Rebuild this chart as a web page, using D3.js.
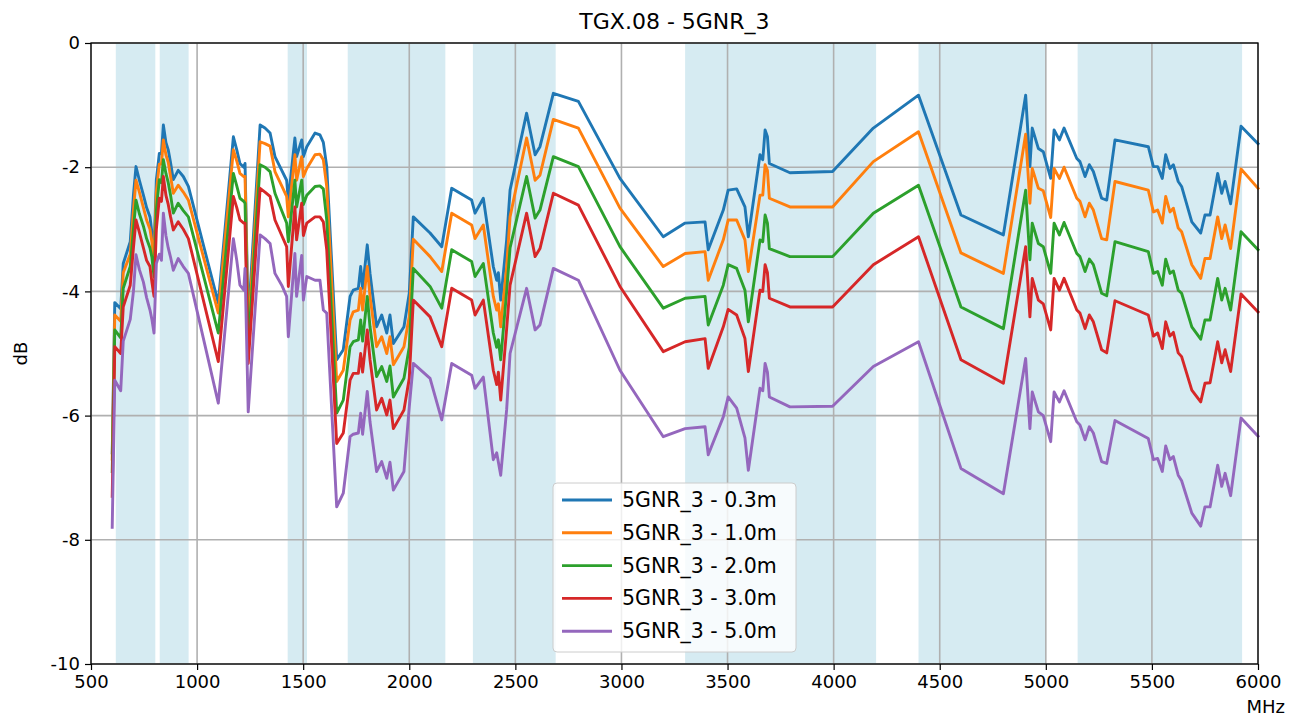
<!DOCTYPE html>
<html>
<head>
<meta charset="utf-8">
<script src="https://cdn.jsdelivr.net/npm/d3@7"></script>
<style>
    body { margin: 0; background: #fff; }
    svg { font-family: "DejaVu Sans", sans-serif; }
</style>
</head>
<body>
<svg id="grafico" width="1299" height="720"></svg>
<script>

const titulo = "TGX.08 - 5GNR_3";

const frequencias = [600, 612, 640, 652, 685, 700, 712, 728, 747, 762, 778, 787, 797, 808, 822, 832, 841, 853, 864, 875, 888, 911, 935, 959,
    1100, 1171, 1187, 1202, 1220, 1226, 1241, 1297, 1320, 1344, 1367, 1399, 1422, 1430, 1461, 1469, 1493, 1501, 1517, 1556, 1579, 1595, 1611,
    1658, 1689, 1721, 1736, 1760, 1771, 1780, 1802, 1815, 1846, 1870, 1894, 1909, 1925, 1975, 2000, 2019, 2098, 2153, 2200,
    2294, 2310, 2349, 2396, 2412, 2420, 2431, 2459, 2475, 2553, 2593, 2616, 2679, 2797, 2993, 3197,
    3300, 3394, 3409, 3480, 3503, 3543, 3582, 3598, 3653, 3666, 3677, 3688, 3697, 3794, 3995, 4187,
    4400, 4600, 4800, 4905, 4925, 4936, 4965, 4988, 5023, 5039, 5064, 5086, 5146, 5161, 5185, 5205, 5224, 5263, 5287,
    5326, 5483, 5507, 5527, 5549, 5565, 5585, 5601, 5624, 5640, 5688, 5730, 5750, 5774, 5810, 5829, 5845, 5871, 5920, 6000];

const valores03m = [-6.6, -4.18, -4.28, -3.55, -3.2, -2.45, -1.99, -2.21, -2.45, -2.65, -2.8, -3.05, -3.35, -2.2, -1.78, -1.78, -1.32, -1.6, -1.72, -1.93, -2.2, -2.05, -2.15, -2.31,
    -4.19, -1.51, -1.72, -1.94, -2.0, -1.94, -4.5, -1.32, -1.37, -1.45, -1.83, -2.05, -2.21, -2.53, -1.53, -1.83, -1.56, -1.83, -1.67, -1.45, -1.48, -1.6, -1.99,
    -5.1, -4.94, -4.08, -3.98, -3.95, -3.6, -3.95, -3.25, -3.71, -4.57, -4.38, -4.67, -4.38, -4.84, -4.57, -4.03, -2.8, -3.06, -3.28, -2.34,
    -2.53, -2.74, -2.5, -3.6, -3.82, -3.7, -4.14, -3.17, -2.37, -1.13, -1.8, -1.67, -0.81, -0.94, -2.18, -3.12,
    -2.9, -2.88, -3.33, -2.69, -2.37, -2.35, -2.64, -3.12, -1.8, -1.88, -1.4, -1.51, -1.94, -2.09, -2.07, -1.37,
    -0.84, -2.77, -3.09, -0.84, -1.99, -1.37, -1.7, -1.75, -2.18, -1.4, -1.56, -1.37, -1.86, -1.91, -2.15, -1.96, -2.07, -2.5, -2.53,
    -1.56, -1.67, -1.99, -1.99, -2.18, -1.8, -2.02, -1.96, -2.23, -2.31, -2.88, -3.06, -2.77, -2.77, -2.1, -2.42, -2.23, -2.59, -1.34, -1.62];

const valores10m = [-6.7, -4.38, -4.48, -3.7, -3.4, -2.7, -2.21, -2.4, -2.65, -2.85, -3.0, -3.2, -3.5, -2.4, -1.95, -1.95, -1.56, -1.8, -1.92, -2.15, -2.42, -2.29, -2.4, -2.53,
    -4.35, -1.72, -1.9, -2.1, -2.15, -2.15, -4.7, -1.59, -1.62, -1.66, -2.07, -2.3, -2.47, -2.8, -1.8, -2.21, -1.83, -2.15, -2.02, -1.8, -1.79, -1.88, -2.31,
    -5.45, -5.27, -4.46, -4.33, -4.3, -3.95, -4.3, -3.6, -4.08, -4.89, -4.73, -5.0, -4.73, -5.18, -4.89, -4.4, -3.16, -3.44, -3.68, -2.74,
    -2.93, -3.15, -2.93, -4.08, -4.3, -4.2, -4.57, -3.6, -2.8, -1.53, -2.21, -2.13, -1.23, -1.37, -2.66, -3.6,
    -3.39, -3.36, -3.82, -3.17, -2.85, -2.85, -3.17, -3.68, -2.45, -2.45, -1.96, -2.05, -2.5, -2.64, -2.64, -1.91,
    -1.43, -3.38, -3.71, -1.47, -2.58, -2.02, -2.34, -2.38, -2.81, -2.02, -2.18, -2.0, -2.5, -2.55, -2.8, -2.58, -2.69, -3.15, -3.17,
    -2.23, -2.37, -2.72, -2.69, -2.9, -2.47, -2.72, -2.66, -2.98, -3.04, -3.57, -3.79, -3.47, -3.47, -2.8, -3.15, -2.93, -3.31, -2.03, -2.34];

const valores20m = [-6.9, -4.62, -4.75, -3.95, -3.6, -3.0, -2.53, -2.75, -2.95, -3.15, -3.3, -3.45, -3.76, -2.7, -2.2, -2.25, -1.88, -2.1, -2.25, -2.45, -2.74, -2.58, -2.7, -2.8,
    -4.67, -2.1, -2.3, -2.5, -2.55, -2.58, -4.9, -1.96, -2.0, -2.07, -2.42, -2.7, -2.9, -3.2, -2.21, -2.64, -2.21, -2.6, -2.45, -2.31, -2.3, -2.35, -2.85,
    -5.96, -5.75, -4.89, -4.81, -4.78, -4.46, -4.8, -4.08, -4.57, -5.37, -5.21, -5.45, -5.2, -5.7, -5.4, -4.9, -3.63, -3.92, -4.27, -3.33,
    -3.52, -3.76, -3.55, -4.67, -4.9, -4.78, -5.1, -4.0, -3.3, -2.15, -2.82, -2.69, -1.83, -1.99, -3.28, -4.27,
    -4.11, -4.08, -4.54, -3.9, -3.57, -3.63, -3.98, -4.49, -3.17, -3.2, -2.77, -2.9, -3.31, -3.44, -3.44, -2.74,
    -2.29, -4.25, -4.6, -2.37, -3.49, -2.9, -3.23, -3.28, -3.71, -2.9, -3.09, -2.89, -3.39, -3.44, -3.68, -3.48, -3.57, -4.03, -4.07,
    -3.2, -3.36, -3.71, -3.68, -3.9, -3.48, -3.71, -3.67, -3.98, -4.03, -4.57, -4.77, -4.46, -4.46, -3.79, -4.14, -3.95, -4.3, -3.04, -3.33];

const valores30m = [-7.3, -4.89, -5.0, -4.25, -3.9, -3.3, -2.85, -3.05, -3.3, -3.5, -3.6, -3.85, -4.08, -3.0, -2.5, -2.55, -2.15, -2.45, -2.6, -2.8, -3.01, -2.88, -3.0, -3.15,
    -5.13, -2.47, -2.65, -2.85, -2.9, -2.9, -5.16, -2.34, -2.4, -2.47, -2.85, -3.1, -3.28, -3.92, -2.64, -3.17, -2.58, -3.1, -2.9, -2.8, -2.8, -2.88, -3.33,
    -6.45, -6.28, -5.43, -5.32, -5.32, -5.0, -5.3, -4.62, -5.1, -5.91, -5.72, -5.99, -5.75, -6.21, -5.91, -5.4, -4.14, -4.41, -4.89, -3.95,
    -4.14, -4.38, -4.14, -5.27, -5.5, -5.3, -5.75, -4.6, -3.9, -2.74, -3.44, -3.31, -2.42, -2.61, -3.92, -4.97,
    -4.81, -4.76, -5.24, -4.57, -4.29, -4.38, -4.76, -5.29, -3.98, -4.0, -3.57, -3.7, -4.11, -4.25, -4.25, -3.57,
    -3.12, -5.1, -5.48, -3.28, -4.41, -3.79, -4.14, -4.2, -4.62, -3.79, -3.98, -3.79, -4.3, -4.35, -4.6, -4.38, -4.49, -4.94, -4.99,
    -4.15, -4.38, -4.72, -4.67, -4.92, -4.49, -4.72, -4.66, -4.99, -5.05, -5.59, -5.78, -5.48, -5.47, -4.81, -5.15, -4.94, -5.29, -4.04, -4.33];

const valores50m = [-7.8, -5.43, -5.6, -4.8, -4.45, -4.0, -3.41, -3.65, -3.85, -4.1, -4.3, -4.45, -4.67, -3.55, -3.4, -3.5, -2.74, -3.1, -3.3, -3.45, -3.66, -3.47, -3.6, -3.71,
    -5.8, -3.15, -3.5, -3.9, -3.98, -3.63, -5.94, -3.09, -3.15, -3.23, -3.71, -3.9, -4.08, -4.73, -3.39, -4.08, -3.42, -4.14, -3.76, -3.82, -3.82, -4.3, -4.35,
    -7.47, -7.25, -6.34, -6.3, -6.28, -5.96, -6.3, -5.61, -6.1, -6.9, -6.74, -7.01, -6.75, -7.2, -6.9, -5.86, -5.16, -5.4, -6.07, -5.16,
    -5.35, -5.56, -5.38, -6.71, -6.6, -6.75, -6.96, -5.9, -5.0, -3.95, -4.62, -4.54, -3.63, -3.82, -5.27, -6.34,
    -6.21, -6.18, -6.63, -6.02, -5.7, -5.88, -6.36, -6.88, -5.56, -5.6, -5.16, -5.3, -5.7, -5.86, -5.85, -5.21,
    -4.81, -6.85, -7.26, -5.08, -6.21, -5.62, -5.94, -6.0, -6.42, -5.62, -5.78, -5.6, -6.1, -6.15, -6.39, -6.18, -6.28, -6.74, -6.77,
    -6.08, -6.37, -6.71, -6.69, -6.9, -6.49, -6.71, -6.66, -6.96, -7.05, -7.57, -7.78, -7.47, -7.47, -6.8, -7.14, -6.93, -7.29, -6.04, -6.33];

const nomesSeries = ["5GNR_3 - 0.3m", "5GNR_3 - 1.0m", "5GNR_3 - 2.0m", "5GNR_3 - 3.0m", "5GNR_3 - 5.0m"];
const coresSeries = ["#1f77b4", "#ff7f0e", "#2ca02c", "#d62728", "#9467bd"];

// faixas de frequencia destacadas (MHz)
const bandasInicio = [617, 824, 1427, 1710, 2300, 3300, 4400, 5150];
const bandasFim = [803, 960, 1518, 2170, 2690, 4200, 5000, 5925];

const ticksX = [500, 1000, 1500, 2000, 2500, 3000, 3500, 4000, 4500, 5000, 5500, 6000];
const ticksY = [0, -2, -4, -6, -8, -10];


class GraficoResposta {

    constructor(seletor) {
        this.svg = d3.select(seletor);
        this.margem = {top: 43, right: 41, bottom: 56, left: 91};
        this.largura = 1299;
        this.altura = 720;
    }

    renderizar() {
        const m = this.margem;
        const x = d3.scaleLinear().domain([500, 6000]).range([m.left, this.largura - m.right]);
        const y = d3.scaleLinear().domain([-10, 0]).range([this.altura - m.bottom, m.top]);

        const series = [valores03m, valores10m, valores20m, valores30m, valores50m];

        // faixas
        this.svg.append("g").selectAll("rect")
            .data(bandasInicio.map((inicio, i) => [inicio, bandasFim[i]]))
            .enter().append("rect")
                .attr("x", d => x(d[0]))
                .attr("y", y(0))
                .attr("width", d => x(d[1]) - x(d[0]))
                .attr("height", y(-10) - y(0))
                .attr("fill", "#add8e6")
                .attr("fill-opacity", 0.5);

        // grade
        const grade = this.svg.append("g").attr("stroke", "#b0b0b0").attr("stroke-width", 1.6);
        grade.selectAll(".gx").data(ticksX).enter().append("line")
            .attr("x1", d => x(d)).attr("x2", d => x(d))
            .attr("y1", y(0)).attr("y2", y(-10));
        grade.selectAll(".gy").data(ticksY).enter().append("line")
            .attr("y1", d => y(d)).attr("y2", d => y(d))
            .attr("x1", x(500)).attr("x2", x(6000));

        // linhas
        const linha = d3.line()
            .x((d, i) => x(frequencias[i]))
            .y(d => y(d));

        this.svg.append("g").selectAll("path")
            .data(series)
            .enter().append("path")
                .attr("d", d => linha(d))
                .attr("fill", "none")
                .attr("stroke", (d, i) => coresSeries[i])
                .attr("stroke-width", 2.9)
                .attr("stroke-linejoin", "round")
                .attr("stroke-linecap", "square");

        // eixos
        const eixoX = this.svg.append("g")
            .attr("transform", `translate(0,${y(-10)})`)
            .call(d3.axisBottom(x).tickValues(ticksX).tickSize(6).tickPadding(5).tickFormat(d => String(d)));
        const eixoY = this.svg.append("g")
            .attr("transform", `translate(${x(500)},0)`)
            .call(d3.axisLeft(y).tickValues(ticksY).tickSize(6).tickPadding(5).tickFormat(d => String(d)));

        [eixoX, eixoY].forEach(eixo => {
            eixo.select(".domain").remove();
            eixo.selectAll("line").attr("stroke", "#000").attr("stroke-width", 1.2);
            eixo.selectAll("text").attr("font-size", 18).attr("fill", "#000")
                .attr("font-family", "DejaVu Sans, sans-serif");
        });

        // moldura
        this.svg.append("rect")
            .attr("x", x(500)).attr("y", y(0))
            .attr("width", x(6000) - x(500)).attr("height", y(-10) - y(0))
            .attr("fill", "none").attr("stroke", "#000").attr("stroke-width", 1.3);

        // textos
        this.svg.append("text")
            .attr("x", (x(500) + x(6000)) / 2).attr("y", 29)
            .attr("text-anchor", "middle").attr("font-size", 22)
            .text(titulo);

        this.svg.append("text")
            .attr("transform", `translate(27,${(y(0) + y(-10)) / 2}) rotate(-90)`)
            .attr("text-anchor", "middle").attr("font-size", 18)
            .text("dB");

        this.svg.append("text")
            .attr("x", 1285).attr("y", 713)
            .attr("text-anchor", "end").attr("font-size", 18)
            .text("MHz");

        this.desenharLegenda();
    }

    desenharLegenda() {
        const legenda = this.svg.append("g").attr("transform", "translate(553,483)");

        legenda.append("rect")
            .attr("width", 243).attr("height", 169).attr("rx", 4)
            .attr("fill", "#fff").attr("fill-opacity", 0.8)
            .attr("stroke", "#cccccc").attr("stroke-width", 1);

        const item = legenda.selectAll(".item")
            .data(nomesSeries)
            .enter().append("g")
                .attr("transform", (d, i) => `translate(0,${17 + i * 32.8})`);

        item.append("line")
            .attr("x1", 9).attr("x2", 59)
            .attr("stroke", (d, i) => coresSeries[i])
            .attr("stroke-width", 2.9);

        item.append("text")
            .attr("x", 69).attr("y", 7)
            .attr("font-size", 20.5)
            .text(d => d);
    }
}

new GraficoResposta("#grafico").renderizar();
</script>
</body>
</html>
